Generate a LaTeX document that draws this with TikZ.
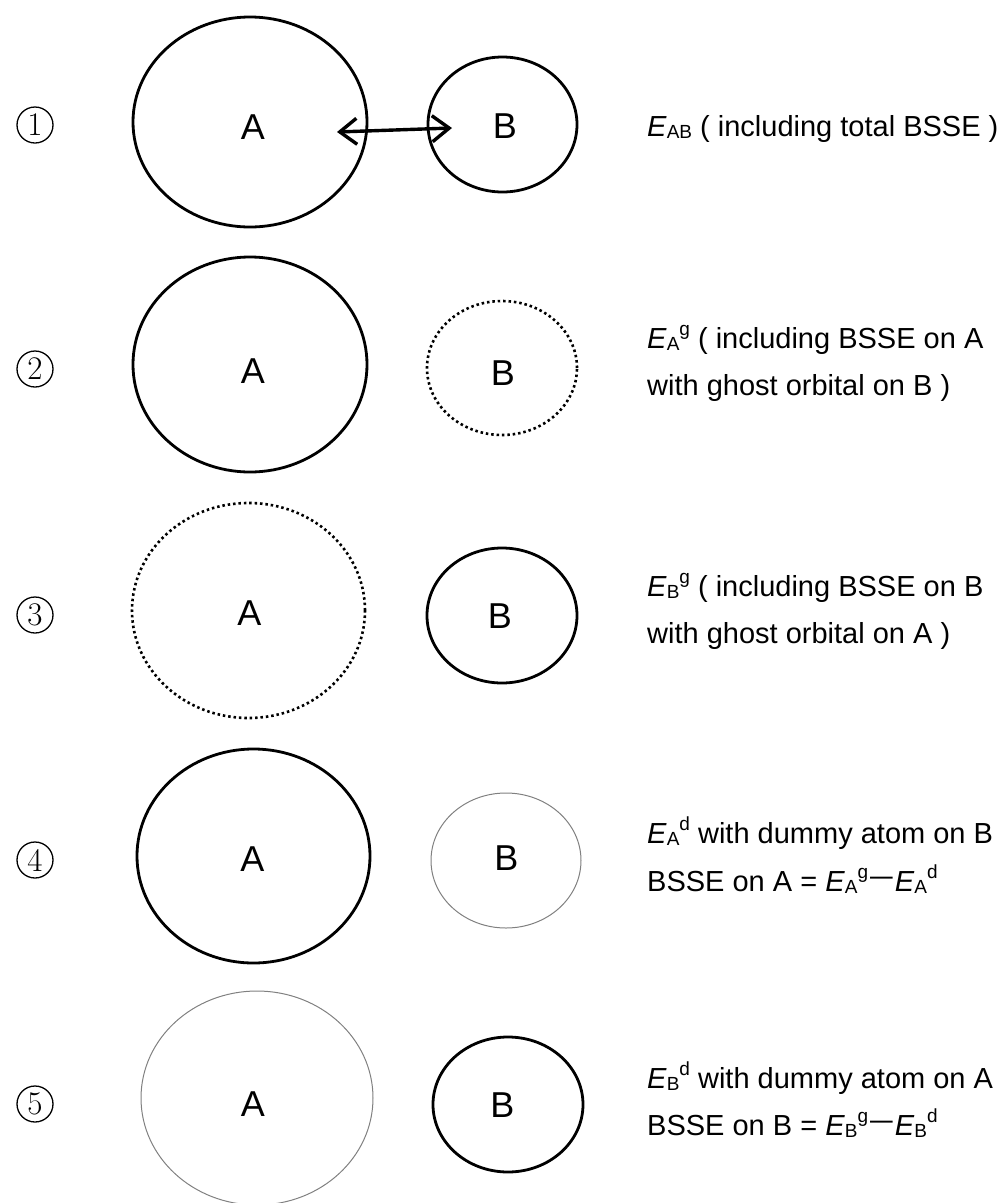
\documentclass[tikz,border=0pt]{standalone}
\usepackage{fontspec}
\usepackage{graphicx}
\newfontfamily\arialfont{Liberation Sans}
\usetikzlibrary{shapes.geometric,arrows.meta}

% subscripted energy symbol, raised superscript and the minus dash
\newcommand\En[1]{\textit{E}\raisebox{-0.1em}{\fontsize{19}{19}\selectfont #1}}
\newcommand\sups[1]{\raisebox{0.42em}{\fontsize{19}{19}\selectfont #1}}
\newcommand\longdash{\hspace{2pt}\raisebox{0.2em}{\scalebox{0.78}[1]{—}}\hspace{2pt}}

\tikzset{
  orb/.style={ellipse, inner sep=0pt, outer sep=0pt},
  solidorb/.style={orb, draw=black, line width=2.8pt},
  ghostorb/.style={orb, draw=black, line width=2.6pt, dash pattern=on 2.5pt off 2.9pt},
  dummyorb/.style={orb, draw=black!50, line width=1pt},
  letter/.style={font=\arialfont\fontsize{36}{36}\selectfont, inner sep=0pt},
  note/.style={font=\arialfont\fontsize{29}{29}\selectfont, anchor=base west, inner sep=0pt},
  stepnum/.style={circle, draw, line width=1.3pt, minimum size=36pt, inner sep=0pt,
                  font=\fontsize{33}{33}\selectfont},
  barbs/.style={line width=3.4pt,
                {Straight Barb[length=17pt,width=26pt]}-{Straight Barb[length=17pt,width=26pt]}},
}

\begin{document}
\begin{tikzpicture}[x=1pt,y=-1pt]
\useasboundingbox (0,0) rectangle (1006,1203);

% ---------- row 1: the complex AB ----------
\node[stepnum] (n1) at (35,125) {1};
\node[solidorb, minimum width=234pt, minimum height=210pt] (A1) at (250,122) {};
\node[solidorb, minimum width=149pt, minimum height=135pt] (B1) at (502.5,124.5) {};
\node[letter] (a1) at (253,127) {A};
\node[letter] (b1) at (505,126) {B};
\coordinate (tipL) at (337,132);
\coordinate (tipR) at (452,128);
\draw[barbs] (tipL) -- (tipR);
\node[note] (t1) at (647,136) {\En{AB} ( including total BSSE )};

% ---------- row 2: A with ghost orbitals on B ----------
\node[stepnum] (n2) at (35,369) {2};
\node[solidorb, minimum width=234pt, minimum height=215pt] (A2) at (250,364.5) {};
\node[ghostorb, minimum width=150pt, minimum height=134pt] (B2) at (502,368) {};
\node[letter] (a2) at (253,371) {A};
\node[letter] (b2) at (503,373) {B};
\node[note] (t2a) at (647,348) {\En{A}\sups{g} ( including BSSE on A};
\node[note] (t2b) at (647,395) {with ghost orbital on B )};

% ---------- row 3: B with ghost orbitals on A ----------
\node[stepnum] (n3) at (35,615) {3};
\node[ghostorb, minimum width=233pt, minimum height=215pt] (A3) at (248.5,610.5) {};
\node[solidorb, minimum width=150pt, minimum height=135pt] (B3) at (502,615.5) {};
\node[letter] (a3) at (249.5,613) {A};
\node[letter] (b3) at (500,616) {B};
\node[note] (t3a) at (647,596) {\En{B}\sups{g} ( including BSSE on B};
\node[note] (t3b) at (647,643) {with ghost orbital on A )};

% ---------- row 4: A with a dummy atom at B ----------
\node[stepnum] (n4) at (35,860) {4};
\node[solidorb, minimum width=233pt, minimum height=214pt] (A4) at (253.5,856) {};
\node[dummyorb, minimum width=150pt, minimum height=135pt] (B4) at (506,860.5) {};
\node[letter] (a4) at (252.5,859.5) {A};
\node[letter] (b4) at (506.5,858.5) {B};
\node[note] (t4a) at (647,843) {\En{A}\sups{d} with dummy atom on B};
\node[note] (t4b) at (647,891) {BSSE on A = \En{A}\sups{g}\longdash\En{A}\sups{d}};

% ---------- row 5: B with a dummy atom at A ----------
\node[stepnum] (n5) at (35,1104) {5};
\node[dummyorb, minimum width=232pt, minimum height=214pt] (A5) at (257,1098) {};
\node[solidorb, minimum width=150pt, minimum height=135pt] (B5) at (508,1104.5) {};
\node[letter] (a5) at (253,1104.5) {A};
\node[letter] (b5) at (502.5,1105.5) {B};
\node[note] (t5a) at (647,1088) {\En{B}\sups{d} with dummy atom on A};
\node[note] (t5b) at (647,1135) {BSSE on B = \En{B}\sups{g}\longdash\En{B}\sups{d}};
\end{tikzpicture}
\end{document}
